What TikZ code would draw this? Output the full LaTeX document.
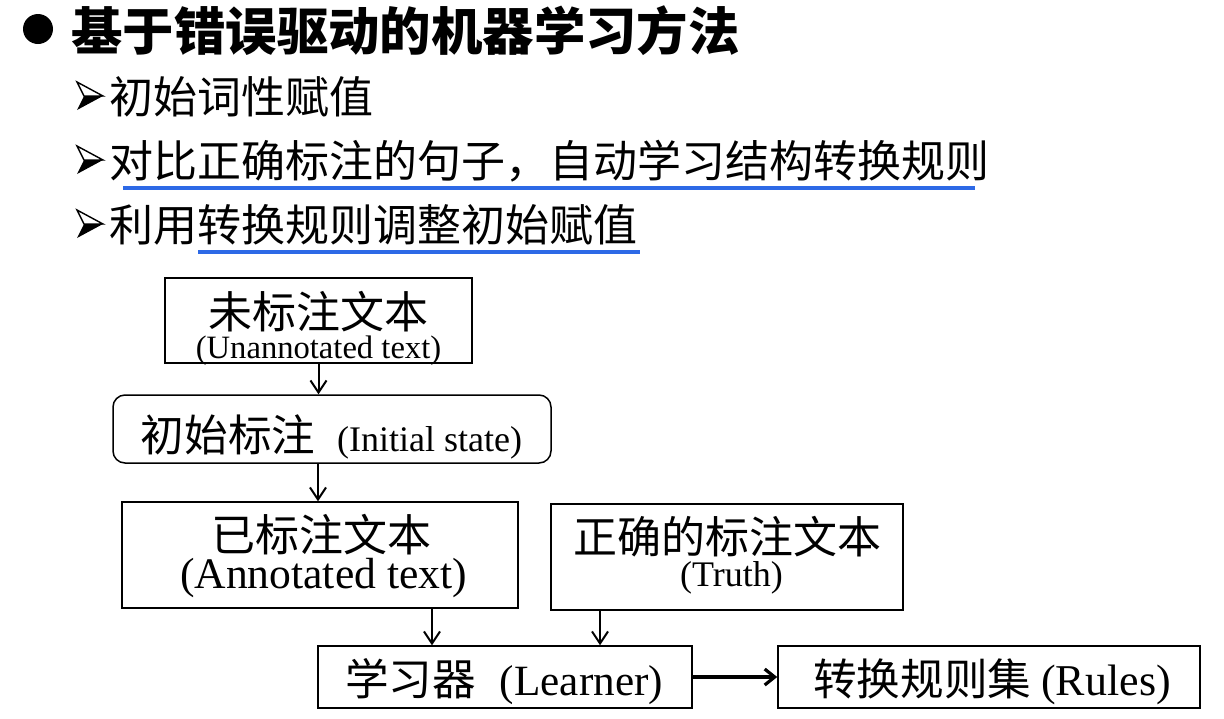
\documentclass[tikz,border=0pt]{standalone}
\usepackage{fontspec}
\setmainfont{Liberation Serif}
\newfontfamily\cjk{Noto Sans CJK SC}
\usetikzlibrary{arrows.meta}
\definecolor{ulblue}{RGB}{45,105,230}
\begin{document}
\begin{tikzpicture}[x=0.5pt,y=-0.5pt,
  box/.style={draw, line width=0.75pt, inner sep=0pt},
  lbl/.style={inner sep=0pt},
  cjkbig/.style={lbl, text height=17.6pt, text depth=1.1pt, font={\fontsize{22pt}{24pt}\selectfont\cjk}},
  arr/.style={line width=1pt, -{Straight Barb[length=6pt,width=8pt,line width=1pt]}},
  harr/.style={line width=2pt, -{Straight Barb[length=5pt,width=8pt,line width=1.6pt]}},
  uline/.style={line width=1.6pt, draw=ulblue},
  ptr/.style={line width=0.7pt, fill=white, line join=miter}
]
\useasboundingbox (0,0) rectangle (1224,718);

% title
\fill (38,29) circle[radius=7.5pt];
\node[lbl, anchor=west, font={\fontsize{25.7pt}{28pt}\selectfont\cjk\bfseries}] (title) at (71,31) {基于错误驱动的机器学习方法};

% sub bullets
\foreach \cy in {96,160,224}{
  \draw[ptr] (77,\cy-14) -- (103,\cy) -- (84,\cy) -- cycle;
  \fill (84,\cy) -- (103,\cy) -- (77,\cy+14) -- cycle;
}
\node[cjkbig, anchor=west] (l1) at (109,97) {初始词性赋值};
\node[cjkbig, anchor=west] (l2) at (109,161) {对比正确标注的句子，自动学习结构转换规则};
\node[cjkbig, anchor=west] (l3) at (109,225) {利用转换规则调整初始赋值};
\draw[uline] (123,188) -- (975,188);
\draw[uline] (198,252) -- (640,252);

% boxes
\node[box, minimum width=153.5pt, minimum height=42.5pt] (b1) at (318.5,320.5) {};
\node[cjkbig] (b1c) at (318.5,312) {未标注文本};
\node[lbl, font={\fontsize{16.3pt}{18pt}\selectfont}] (b1e) at (318.5,351) {(Unannotated text)};

\node[box, rounded corners=6pt, minimum width=219pt, minimum height=34pt] (b2) at (332,429) {};
\node[lbl] (b2t) at (331.5,437) {{\fontsize{21.8pt}{24pt}\selectfont\cjk 初始标注}\hspace{11pt}{\fontsize{18pt}{20pt}\selectfont (Initial state)}};

\node[box, minimum width=198pt, minimum height=53pt] (b3) at (320,555) {};
\node[cjkbig] (b3c) at (321.5,535) {已标注文本};
\node[lbl, font={\fontsize{21.8pt}{24pt}\selectfont}] (b3e) at (323.5,578) {(Annotated text)};

\node[box, minimum width=176pt, minimum height=53pt] (b4) at (727,557) {};
\node[cjkbig] (b4c) at (727.5,537) {正确的标注文本};
\node[lbl, font={\fontsize{18pt}{20pt}\selectfont}] (b4e) at (731.5,578) {(Truth)};

\node[box, minimum width=187pt, minimum height=31pt] (b5) at (505,677) {};
\node[lbl] (b5t) at (504,682) {{\fontsize{21.8pt}{24pt}\selectfont\cjk 学习器}\hspace{12pt}{\fontsize{21.6pt}{24pt}\selectfont (Learner)}};

\node[box, minimum width=211pt, minimum height=31pt] (b6) at (989,677) {};
\node[lbl] (b6t) at (992,682) {{\fontsize{21.8pt}{24pt}\selectfont\cjk 转换规则集}\hspace{5pt}{\fontsize{22pt}{24pt}\selectfont (Rules)}};

% connectors
\draw[arr] (b1.south) -- (b1.south |- b2.north);
\draw[arr] (318,0 |- b2.south) -- (318,0 |- b3.north);
\draw[arr] (432,0 |- b3.south) -- (432,0 |- b5.north);
\draw[arr] (600,0 |- b4.south) -- (600,0 |- b5.north);
\draw[harr] (b5.east) -- (b6.west);
\end{tikzpicture}
\end{document}
